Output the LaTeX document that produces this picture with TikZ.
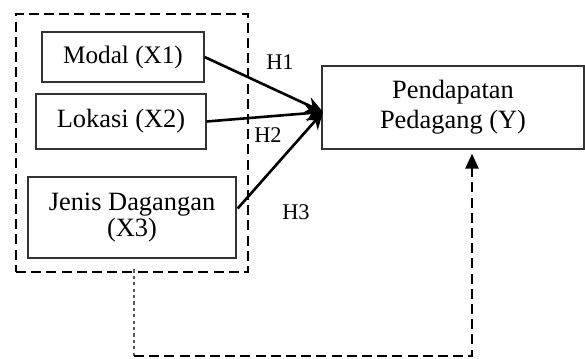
\documentclass[tikz,border=0pt]{standalone}
\usepackage{fontspec}
\setmainfont{Liberation Serif}
\usetikzlibrary{arrows.meta,calc}
\begin{document}
\begin{tikzpicture}[x=0.5pt,y=-0.5pt,
  txt/.style={font=\fontsize{13.2}{12.9}\selectfont},
  box/.style={txt, draw=black!80, line width=0.65pt, inner sep=0pt, align=center},
  link/.style={line width=1.3pt, -{Stealth[length=8.5pt,width=8pt]}},
  frame/.style={line width=1.35pt, dash pattern=on 5pt off 2.6pt},
  dotline/.style={line width=0.55pt, black!65, dash pattern=on 1.6pt off 1.6pt},
  lbl/.style={font=\fontsize{11.2}{13}\selectfont, inner sep=0pt}]
\useasboundingbox (0,0) rectangle (585,359);

% group frame around the independent variables
\node[draw, frame, minimum width=116pt, minimum height=129pt, inner sep=0pt] (grp) at (132,143) {};

% independent variables
\node[box, font=\fontsize{12.6}{13}\selectfont, minimum width=81pt, minimum height=25pt] (x1) at (123,57) {Modal (X1)};
\node[box, minimum width=85pt, minimum height=27.5pt] (x2) at (121,121.5) {Lokasi (X2)};
\node[box, minimum width=104pt, minimum height=40.5pt] (x3) at (132,217.5) {Jenis Dagangan\\(X3)};

% dependent variable
\node[box, font=\fontsize{13.2}{15}\selectfont, minimum width=131pt, minimum height=41.5pt] (y) at (453,107.5) {Pendapatan\\Pedagang (Y)};
\coordinate (hub) at (323,112);

% hypotheses
\draw[link] (x1.east) -- (hub);
\draw[link] (x2.east) -- (hub);
\draw[link] ($(x3.east)+(1,-9)$) -- (hub);

\node[lbl] (h1) at (280,62) {H1};
\node[lbl] (h2) at (268,135) {H2};
\node[lbl] (h3) at (296,212) {H3};

% simultaneous effect
\coordinate (c1) at (134,356);
\coordinate (c2) at (472,356);
\draw[dotline] ($(grp.south -| c1)+(0,-4)$) -- (c1);
\draw[frame, -{Triangle[length=7.5pt,width=6.5pt]}] (c1) -- (c2) -- ($(c2 |- y.south)+(0,4)$);
\end{tikzpicture}
\end{document}
